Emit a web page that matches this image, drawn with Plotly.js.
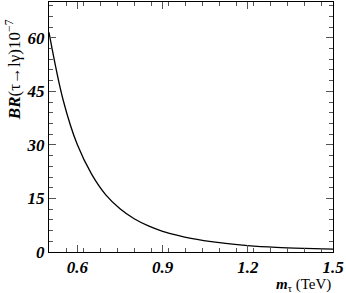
<html>
<head>
<meta charset="UTF-8" />
<script src="https://cdn.plot.ly/plotly-3.0.1.min.js"></script>
<style>body{margin:0;background:#fff}</style>
</head>
<body>
<div id="chart" style="width:346px;height:293px;"></div>
<script>
// tau mass in TeV, branching ratio in units of 1e-7
const mTau = [0.5, 0.55, 0.6, 0.65, 0.7, 0.75, 0.8, 0.85, 0.9, 0.95, 1.0, 1.1, 1.2, 1.3, 1.4, 1.5];
const br = [61.5, 42.5, 30.0, 21.8, 16.0, 12.1, 9.3, 7.3, 5.8, 4.7, 3.8, 2.6, 1.8, 1.3, 1.0, 0.8];
const xTicks = [0.6, 0.9, 1.2, 1.5];
const yTicks = [0, 15, 30, 45, 60];

const tickFont = {family: 'Liberation Serif', size: 17, color: '#000'};

const trace = {
  x: mTau, y: br, type: 'scatter', mode: 'lines',
  line: {color: '#000', width: 1.3, shape: 'spline'},
  hoverinfo: 'none'
};

const axisCommon = {
  showgrid: false, zeroline: false, showline: true, linecolor: '#000', linewidth: 1,
  mirror: 'allticks', ticks: 'inside', ticklen: 7, tickcolor: '#555', tickwidth: 1,
  tickfont: tickFont
};

const layout = {
  width: 346, height: 293,
  margin: {l: 49, r: 13, t: 2, b: 41},
  paper_bgcolor: '#fff', plot_bgcolor: '#fff',
  showlegend: false,
  xaxis: Object.assign({}, axisCommon, {
    range: [0.5, 1.5], tickvals: xTicks,
    ticktext: xTicks.map(v => '<b><i>' + v.toFixed(1) + '</i></b>'),
    minor: {dtick: 0.06, tick0: 0.5, ticks: 'inside', ticklen: 4, tickcolor: '#555'}
  }),
  yaxis: Object.assign({}, axisCommon, {
    range: [0, 70], tickvals: yTicks,
    ticktext: yTicks.map(v => '<b><i>' + v + '</i></b>'),
    minor: {dtick: 3, tick0: 0, ticks: 'inside', ticklen: 4, tickcolor: '#555'}
  }),
  annotations: [
    {
      xref: 'paper', yref: 'paper', x: -0.128, y: 0.73, xanchor: 'center', yanchor: 'middle',
      textangle: -90, showarrow: false,
      text: '<b><i>BR</i></b>(τ→lγ)10<sup>−7</sup>',
      font: {family: 'Liberation Serif', size: 17, color: '#000'}
    },
    {
      xref: 'paper', yref: 'paper', x: 1.0, y: -0.13, xanchor: 'right', yanchor: 'middle',
      showarrow: false,
      text: '<b><i>m</i></b><sub>τ</sub> (TeV)',
      font: {family: 'Liberation Serif', size: 15, color: '#000'}
    }
  ]
};

Plotly.newPlot('chart', [trace], layout, {displayModeBar: false, staticPlot: true});
</script>
</body>
</html>
